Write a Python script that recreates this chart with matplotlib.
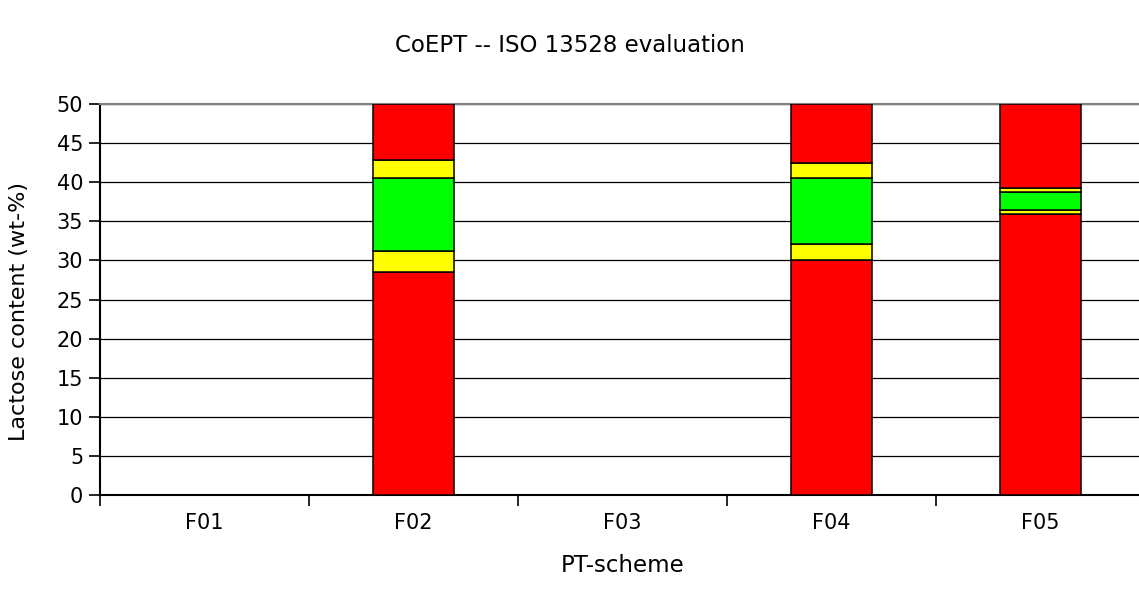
import matplotlib.pyplot as plt
import numpy as np

schemes = ["F01", "F02", "F03", "F04", "F05"]
# stacked segments from bottom to top (wt-%)
red_low = [0, 28.5, 0, 30.0, 35.9]
yellow_low = [0, 2.7, 0, 2.1, 0.5]
green = [0, 9.3, 0, 8.4, 2.3]
yellow_high = [0, 2.3, 0, 2.0, 0.5]
red_high = [0, 7.2, 0, 7.5, 10.8]

plt.rcParams['font.family'] = ['DejaVu Sans']

fig = plt.figure(figsize=(11.39, 6.06), dpi=100)
ax = fig.add_axes([100/1139, 111/606, 1045/1139, 391/606])

x = np.arange(len(schemes))
segs = [(red_low, "#ff0000"), (yellow_low, "#ffff00"), (green, "#00ff00"),
        (yellow_high, "#ffff00"), (red_high, "#ff0000")]
bottom = np.zeros(len(schemes))
for vals, col in segs:
    vals = np.array(vals)
    mask = vals > 0
    ax.bar(x[mask], vals[mask], width=0.39, bottom=bottom[mask], color=col,
           edgecolor="black", linewidth=1.1, zorder=3)
    bottom += vals

ax.set_xlim(-0.5, 4.5)
ax.set_ylim(0, 50)
ax.set_yticks(np.arange(0, 51, 5))
ax.yaxis.grid(True, color="black", linewidth=0.9, zorder=0)
ax.set_axisbelow(True)

ax.set_xticks(np.arange(-0.5, 5, 1))
ax.set_xticklabels([])
ax.set_xticks(x, minor=True)
ax.set_xticklabels(schemes, minor=True)
ax.tick_params(axis="x", which="major", length=8, width=1.2, direction="out")
ax.tick_params(axis="x", which="minor", length=0, pad=13, labelsize=15)
ax.tick_params(axis="y", length=8, width=1.2, labelsize=15, pad=4)

for s in ["left", "bottom"]:
    ax.spines[s].set_linewidth(1.5)
    ax.spines[s].set_color("black")
ax.spines["top"].set_color("#808080")
ax.spines["top"].set_linewidth(1.5)
ax.spines["right"].set_visible(False)

ax.set_ylabel("Lactose content (wt-%)", fontsize=16)
ax.yaxis.set_label_coords(-0.068, 0.47)
ax.set_xlabel("PT-scheme", fontsize=16.5, labelpad=15)
fig.text(0.5, 0.925, "CoEPT -- ISO 13528 evaluation", ha="center", va="center", fontsize=16.5)

fig.savefig("out.png", dpi=100)
